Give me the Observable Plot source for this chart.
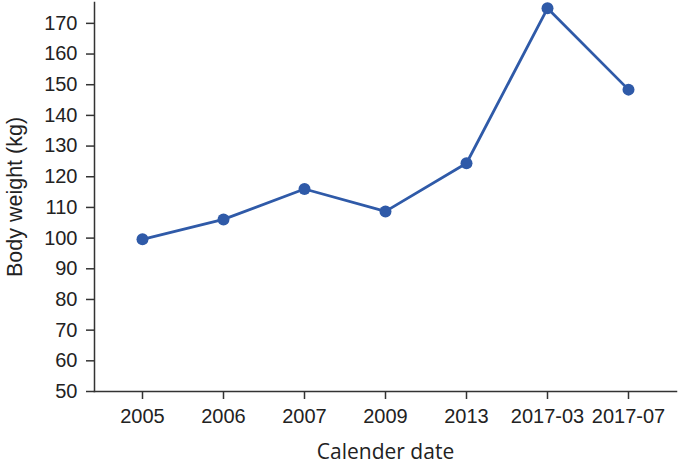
<!DOCTYPE html>
<html>
<head>
<meta charset="utf-8">
<script src="https://cdn.jsdelivr.net/npm/d3@7"></script>
<script src="https://cdn.jsdelivr.net/npm/@observablehq/plot@0.6"></script>
<style>
  html, body { margin: 0; padding: 0; background: #fff; }
</style>
</head>
<body>
<div id="chart"></div>
<script>
const dates = ["2005", "2006", "2007", "2009", "2013", "2017-03", "2017-07"];
const weights = [99.6, 106.1, 116.0, 108.7, 124.4, 174.9, 148.4];
const yTicks = [50, 60, 70, 80, 90, 100, 110, 120, 130, 140, 150, 160, 170];
const xTitle = "Calender date";
const yTitle = "Body weight (kg)";

const data = dates.map((d, i) => ({date: d, weight: weights[i]}));
const color = "#2f5aa8";
const axisColor = "#333";

const chart = Plot.plot({
  width: 678,
  height: 465,
  marginTop: 2,
  marginBottom: 74,
  marginLeft: 94,
  marginRight: 2,
  style: {fontFamily: "Liberation Sans, Arial, sans-serif", background: "#fff"},
  x: {type: "point", domain: dates, padding: 0.55},
  y: {domain: [50, 176.8]},
  marks: [
    Plot.frame({anchor: "left", stroke: axisColor, strokeWidth: 1.5}),
    Plot.frame({anchor: "bottom", stroke: axisColor, strokeWidth: 1.5}),
    Plot.axisY({ticks: yTicks, tickSize: 8, tickPadding: 9, fontSize: 20, label: null, stroke: axisColor, strokeWidth: 1.5, color: "#222"}),
    Plot.axisX({tickSize: 8, tickPadding: 9, fontSize: 20, label: null, stroke: axisColor, strokeWidth: 1.5, color: "#222"}),
    Plot.line(data, {x: "date", y: "weight", stroke: color, strokeWidth: 2.8}),
    Plot.dot(data, {x: "date", y: "weight", fill: color, r: 6}),
    Plot.text([xTitle], {frameAnchor: "bottom", dy: 67, fontSize: 21, fontFamily: "Open Sans, sans-serif", fill: "#222", lineAnchor: "bottom"}),
    Plot.text([yTitle], {frameAnchor: "left", dx: -79, rotate: -90, fontSize: 21.5, fontFamily: "Liberation Sans, Arial, sans-serif", fill: "#222", lineAnchor: "middle", textAnchor: "middle"})
  ]
});
document.getElementById("chart").appendChild(chart);
</script>
</body>
</html>
